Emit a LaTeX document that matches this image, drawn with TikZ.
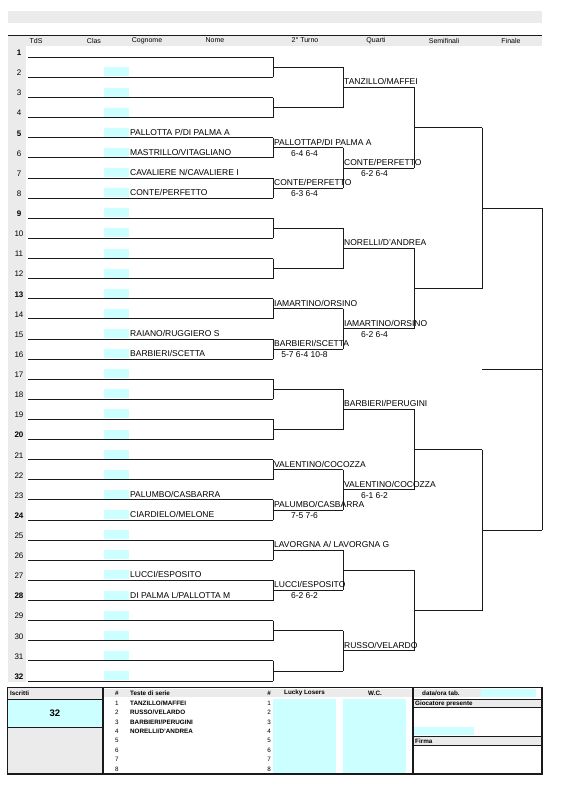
\documentclass[tikz,border=0pt]{standalone}
\usepackage{fontspec}
\setmainfont{Liberation Sans}
\definecolor{cellcyan}{HTML}{CCFFFF}
\definecolor{cellgray}{HTML}{EBEBEB}
\definecolor{linecol}{HTML}{1A1A1A}
\begin{document}
\begin{tikzpicture}[x=1pt,y=-1pt,
  bracket/.style={draw=linecol,line width=0.9pt},
  frame/.style={draw=linecol,line width=1.2pt},
  plname/.style={anchor=base west,inner sep=0pt,font=\fontsize{8.5}{9}\selectfont,yshift=2.5pt},
  score/.style={anchor=base,inner sep=0pt,font=\fontsize{8.5}{9}\selectfont},
  rownum/.style={anchor=base,inner sep=0pt,font=\fontsize{8}{9}\selectfont},
  hdr/.style={inner sep=0pt,font=\fontsize{7}{8}\selectfont},
  tbl/.style={inner sep=0pt,font=\fontsize{6.3}{7}\selectfont},
  tblb/.style={inner sep=0pt,font=\fontsize{6.3}{7}\selectfont\bfseries}]
\useasboundingbox (0,0) rectangle (567,804);
% backgrounds
\fill[cellgray] (8,11) rectangle (542,23);
\fill[cellgray] (8,36) rectangle (542,46);
\fill[cellgray] (8,46) rectangle (26,682);
\draw[linecol,line width=1.6pt] (8,35.5) -- (542,35.5);
\node[hdr] (hTdS) at (36,40.5) {TdS};
\node[hdr] (hClas) at (94,40.5) {Clas};
\node[hdr] (hCog) at (147,40.5) {Cognome};
\node[hdr] (hNome) at (215,40.5) {Nome};
\node[hdr] (hTurno) at (305,40.5) {2° Turno};
\node[hdr] (hQuarti) at (376,40.5) {Quarti};
\node[hdr] (hSemi) at (444,40.5) {Semifinali};
\node[hdr] (hFinale) at (511,40.5) {Finale};
% bracket lines, one round per entry
\foreach \r/\xa/\xb/\n in {1/28/273/32,2/273/343/16,3/343/414/8,4/414/482/4,5/482/542/2}{
  \foreach \k in {1,...,\n}{
    \pgfmathsetmacro\yy{57.3+20.12*((\k-0.5)*2^(\r-1)-0.5)}
    \coordinate (s\r-\k) at (\xa,\yy);
    \coordinate (e\r-\k) at (\xb,\yy);
    \draw[bracket] (s\r-\k) -- (e\r-\k);
  }
}
\foreach \r/\n in {1/16,2/8,3/4,4/2,5/1}{
  \foreach \k in {1,...,\n}{
    \pgfmathtruncatemacro\ka{2*\k-1}
    \pgfmathtruncatemacro\kb{2*\k}
    \draw[bracket] (e\r-\ka) -- (e\r-\kb);
  }
}
\coordinate (wina) at (482,369.2);
\coordinate (winb) at (542,369.2);
\draw[bracket] (wina) -- (winb);
% row numbers and cyan cells
\foreach \i in {2,3,4,6,7,8,10,11,12,14,15,16,17,18,19,21,22,23,25,26,27,29,30,31}
  \node[rownum] (rn\i) at ([xshift=-9pt,yshift=1.7pt]s1-\i) {\i};
\foreach \i in {1,5,9,13,20,24,28,32}
  \node[rownum,font=\fontsize{8}{9}\selectfont\bfseries] (rn\i) at ([xshift=-9pt,yshift=1.7pt]s1-\i) {\i};
\foreach \i in {2,...,32}
  \fill[cellcyan] ([xshift=76pt,yshift=1pt]s1-\i) rectangle ([xshift=101pt,yshift=10pt]s1-\i);
% first round names
\coordinate (cx) at (130,0);
\node[plname] (n5) at (cx |- s1-5) {PALLOTTA P/DI PALMA A};
\node[plname] (n6) at (cx |- s1-6) {MASTRILLO/VITAGLIANO};
\node[plname] (n7) at (cx |- s1-7) {CAVALIERE N/CAVALIERE I};
\node[plname] (n8) at (cx |- s1-8) {CONTE/PERFETTO};
\node[plname] (n15) at (cx |- s1-15) {RAIANO/RUGGIERO S};
\node[plname] (n16) at (cx |- s1-16) {BARBIERI/SCETTA};
\node[plname] (n23) at (cx |- s1-23) {PALUMBO/CASBARRA};
\node[plname] (n24) at (cx |- s1-24) {CIARDIELO/MELONE};
\node[plname] (n27) at (cx |- s1-27) {LUCCI/ESPOSITO};
\node[plname] (n28) at (cx |- s1-28) {DI PALMA L/PALLOTTA M};
% second round
\node[plname] (w2-3) at ([xshift=1pt]s2-3) {PALLOTTAP/DI PALMA A};
\node[score] (sc2-3) at ([xshift=31.5pt,yshift=-8.5pt]s2-3) {6-4 6-4};
\node[plname] (w2-4) at ([xshift=1pt]s2-4) {CONTE/PERFETTO};
\node[score] (sc2-4) at ([xshift=31.5pt,yshift=-8.5pt]s2-4) {6-3 6-4};
\node[plname] (w2-7) at ([xshift=1pt]s2-7) {IAMARTINO/ORSINO};
\node[plname] (w2-8) at ([xshift=1pt]s2-8) {BARBIERI/SCETTA};
\node[score] (sc2-8) at ([xshift=31.5pt,yshift=-8.5pt]s2-8) {5-7 6-4 10-8};
\node[plname] (w2-11) at ([xshift=1pt]s2-11) {VALENTINO/COCOZZA};
\node[plname] (w2-12) at ([xshift=1pt]s2-12) {PALUMBO/CASBARRA};
\node[score] (sc2-12) at ([xshift=31.5pt,yshift=-8.5pt]s2-12) {7-5 7-6};
\node[plname] (w2-13) at ([xshift=1pt]s2-13) {LAVORGNA A/ LAVORGNA G};
\node[plname] (w2-14) at ([xshift=1pt]s2-14) {LUCCI/ESPOSITO};
\node[score] (sc2-14) at ([xshift=31.5pt,yshift=-8.5pt]s2-14) {6-2 6-2};
% quarters
\node[plname] (w3-1) at ([xshift=1pt]s3-1) {TANZILLO/MAFFEI};
\node[plname] (w3-2) at ([xshift=1pt]s3-2) {CONTE/PERFETTO};
\node[score] (sc3-2) at ([xshift=31.5pt,yshift=-8.5pt]s3-2) {6-2 6-4};
\node[plname] (w3-3) at ([xshift=1pt]s3-3) {NORELLI/D'ANDREA};
\node[plname] (w3-4) at ([xshift=1pt]s3-4) {IAMARTINO/ORSINO};
\node[score] (sc3-4) at ([xshift=31.5pt,yshift=-8.5pt]s3-4) {6-2 6-4};
\node[plname] (w3-5) at ([xshift=1pt]s3-5) {BARBIERI/PERUGINI};
\node[plname] (w3-6) at ([xshift=1pt]s3-6) {VALENTINO/COCOZZA};
\node[score] (sc3-6) at ([xshift=31.5pt,yshift=-8.5pt]s3-6) {6-1 6-2};
\node[plname] (w3-8) at ([xshift=1pt]s3-8) {RUSSO/VELARDO};
% bottom table
\fill[cellgray] (8,688) rectangle (103,699);
\fill[cellcyan] (8,699) rectangle (103,727);
\fill[cellgray] (8,727) rectangle (103,774);
\fill[cellgray] (104,689) rectangle (412,697);
\fill[cellcyan] (273,699) rectangle (336,774);
\fill[cellcyan] (343,699) rectangle (406,774);
\fill[cellgray] (414,689) rectangle (481,697);
\fill[cellcyan] (481,689) rectangle (536,697);
\fill[cellgray] (414,700) rectangle (541,707);
\fill[cellcyan] (414,727) rectangle (474,735);
\fill[cellgray] (414,737) rectangle (541,744.5);
\draw[frame] (7.5,687.5) rectangle (542,774);
\draw[frame] (103,687.5) -- (103,774);
\draw[frame] (413,687.5) -- (413,774);
\draw[bracket] (8,699) -- (103,699);
\draw[bracket] (8,727) -- (103,727);
\draw[bracket] (413,699) -- (542,699);
\draw[bracket] (413,707.5) -- (542,707.5);
\draw[bracket] (413,736) -- (542,736);
\draw[bracket] (413,745) -- (542,745);
\node[tblb,anchor=west] (tIscr) at (10,693.5) {Iscritti};
\node[inner sep=0pt,font=\fontsize{9.5}{10}\selectfont\bfseries] (tTot) at (55,713) {32};
\node[tblb] (tHash) at (117,693) {\#};
\node[tblb,anchor=west] (tTeste) at (130,693) {Teste di serie};
\node[tblb] (tHashb) at (269,693) {\#};
\node[tblb] (tLucky) at (304.5,693) {Lucky Losers};
\node[tblb] (tWC) at (375,693) {W.C.};
\node[tblb,anchor=west] (tData) at (422,693) {data/ora tab.};
\node[tblb,anchor=west] (tGioc) at (415,703.7) {Giocatore presente};
\node[tblb,anchor=west] (tFirma) at (415,741) {Firma};
\foreach \j in {1,...,8}{
  \pgfmathsetmacro\ty{703.3+9.38*(\j-1)}
  \node[tbl] (ts\j) at (117,\ty) {\j};
  \node[tbl] (tl\j) at (269,\ty) {\j};
}
\node[tblb,anchor=west] (tsn1) at (130,703.3) {TANZILLO/MAFFEI};
\node[tblb,anchor=west] (tsn2) at (130,712.7) {RUSSO/VELARDO};
\node[tblb,anchor=west] (tsn3) at (130,722) {BARBIERI/PERUGINI};
\node[tblb,anchor=west] (tsn4) at (130,731.4) {NORELLI/D'ANDREA};
\end{tikzpicture}
\end{document}
